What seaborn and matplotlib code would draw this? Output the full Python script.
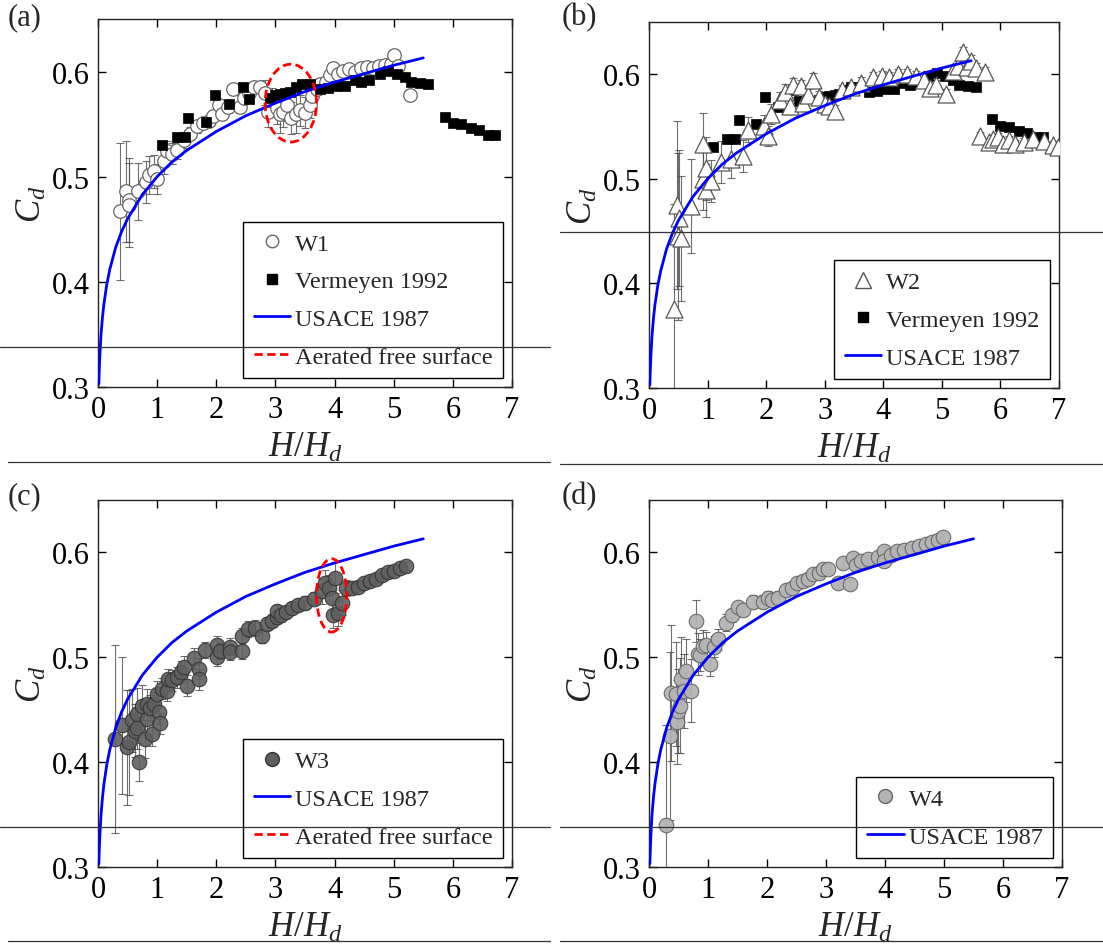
import numpy as np
import matplotlib
matplotlib.use("Agg")
import matplotlib.pyplot as plt
from matplotlib.lines import Line2D
from matplotlib.patches import Ellipse
import seaborn as sns

# ---------------- data ----------------
w1_x = [0.38, 0.47, 0.52, 0.53, 0.68, 0.82, 0.87, 0.95, 1.0, 1.11,
        1.16, 1.25, 1.33, 1.45, 1.56, 1.67, 1.78, 1.87, 1.95, 2.04,
        2.1, 2.2, 2.29, 2.4, 2.47, 2.55, 2.63, 2.74, 2.82, 2.88,
        2.95, 3.02, 3.08, 3.13, 3.2, 3.27, 3.35, 3.42, 3.5, 3.58,
        3.62, 3.7, 3.75, 3.85, 3.92, 3.98, 4.05, 4.15, 4.25, 4.35,
        4.45, 4.55, 4.65, 4.75, 4.85, 4.95, 5.0, 5.07, 5.27]
w1_y = [0.467, 0.486, 0.478, 0.473, 0.486, 0.495, 0.502, 0.505, 0.498, 0.515,
        0.524, 0.522, 0.525, 0.535, 0.541, 0.548, 0.551, 0.553, 0.558, 0.568,
        0.560, 0.566, 0.583, 0.566, 0.575, 0.580, 0.585, 0.585, 0.580, 0.562,
        0.572, 0.565, 0.560, 0.562, 0.568, 0.556, 0.560, 0.563, 0.561, 0.568,
        0.577, 0.583, 0.588, 0.590, 0.597, 0.603, 0.598, 0.601, 0.602, 0.600,
        0.603, 0.604, 0.603, 0.605, 0.606, 0.607, 0.616, 0.605, 0.578]
w1_err = [0.065, 0.048, 0.040, 0.040, 0.027, 0.020, 0.018, 0.016, 0.014, 0.012,
          0.010, 0.010, 0.008, 0.008, 0.006, 0.006, 0.005, 0.005, 0.005, 0.005,
          0.005, 0.005, 0.005, 0.005, 0.005, 0.005, 0.005, 0.005, 0.012, 0.015,
          0.012, 0.015, 0.018, 0.015, 0.015, 0.015, 0.018, 0.015, 0.015, 0.012,
          0.010, 0.005, 0.005, 0.005, 0.005, 0.005, 0.005, 0.005, 0.005, 0.005,
          0.005, 0.005, 0.005, 0.005, 0.005, 0.005, 0.005, 0.005, 0.005]

verm_x = [1.09, 1.33, 1.47, 1.53, 1.82, 1.98, 2.21, 2.46, 2.56, 2.91,
          3.0, 3.08, 3.17, 3.25, 3.35, 3.45, 3.58, 3.75, 3.89, 4.02,
          4.18, 4.35, 4.45, 4.59, 4.77, 4.91, 5.05, 5.19, 5.3, 5.44,
          5.58, 5.86, 6.0, 6.14, 6.31, 6.45, 6.6, 6.72]
verm_y = [0.530, 0.538, 0.538, 0.556, 0.552, 0.578, 0.569, 0.585, 0.574, 0.575,
          0.578, 0.579, 0.580, 0.581, 0.585, 0.588, 0.588, 0.583, 0.584, 0.586,
          0.586, 0.592, 0.590, 0.592, 0.598, 0.601, 0.598, 0.595, 0.590, 0.589,
          0.588, 0.557, 0.551, 0.550, 0.546, 0.544, 0.540, 0.540]

w2_x = [0.42, 0.47, 0.50, 0.52, 0.55, 0.72, 0.92, 0.93, 0.97, 0.98,
        1.06, 1.23, 1.40, 1.60, 1.69, 1.97, 2.03, 2.09, 2.23, 2.32,
        2.40, 2.46, 2.60, 2.63, 2.72, 2.80, 2.90, 3.00, 3.08, 3.17,
        3.30, 3.45, 3.62, 3.82, 3.97, 4.10, 4.25, 4.40, 4.55, 4.70,
        4.79, 4.90, 5.07, 5.19, 5.27, 5.36, 5.43, 5.50, 5.59, 5.73,
        5.65, 5.80, 5.88, 5.95, 6.05, 6.15, 6.25, 6.40, 6.55, 6.75,
        6.90, 6.98]
w2_y = [0.376, 0.475, 0.445, 0.463, 0.443, 0.474, 0.500, 0.533, 0.510, 0.489,
        0.498, 0.516, 0.519, 0.522, 0.547, 0.551, 0.541, 0.562, 0.575, 0.583,
        0.570, 0.590, 0.589, 0.573, 0.580, 0.595, 0.578, 0.572, 0.570, 0.565,
        0.585, 0.588, 0.592, 0.597, 0.598, 0.597, 0.600, 0.600, 0.598, 0.595,
        0.587, 0.590, 0.581, 0.603, 0.608, 0.621, 0.607, 0.613, 0.606, 0.602,
        0.541, 0.535, 0.538, 0.540, 0.533, 0.537, 0.533, 0.535, 0.538, 0.536,
        0.532, 0.530]
w2_err = [0.100, 0.080, 0.080, 0.065, 0.060, 0.045, 0.030, 0.030, 0.030, 0.025,
          0.020, 0.020, 0.018, 0.015, 0.012, 0.010, 0.010, 0.010, 0.008, 0.008,
          0.008, 0.006, 0.006, 0.006, 0.006, 0.006, 0.006, 0.006, 0.006, 0.006,
          0.005, 0.005, 0.005, 0.005, 0.005, 0.005, 0.005, 0.005, 0.005, 0.005,
          0.005, 0.005, 0.005, 0.005, 0.005, 0.005, 0.005, 0.005, 0.005, 0.005,
          0.004, 0.004, 0.004, 0.004, 0.004, 0.004, 0.004, 0.004, 0.004, 0.004,
          0.004, 0.004]

w3_x = [0.29, 0.41, 0.49, 0.52, 0.58, 0.63, 0.66, 0.66, 0.70, 0.74,
        0.80, 0.83, 0.83, 0.88, 0.91, 0.95, 1.00, 1.03, 1.05, 1.08,
        1.17, 1.19, 1.25, 1.33, 1.40, 1.45, 1.50, 1.63, 1.71, 1.71,
        1.81, 2.01, 2.01, 2.07, 2.23, 2.23, 2.43, 2.44, 2.54, 2.65,
        2.77, 2.85, 2.95, 3.02, 3.02, 3.10, 3.18, 3.28, 3.38, 3.50,
        3.65, 3.78, 3.84, 3.90, 3.95, 3.98, 4.01, 4.06, 4.12, 4.20,
        4.30, 4.40, 4.50, 4.60, 4.70, 4.80, 4.90, 5.00, 5.10, 5.20]
w3_y = [0.422, 0.435, 0.414, 0.419, 0.440, 0.430, 0.446, 0.433, 0.400, 0.454,
        0.422, 0.441, 0.455, 0.452, 0.427, 0.455, 0.465, 0.448, 0.437, 0.470,
        0.468, 0.479, 0.478, 0.481, 0.486, 0.491, 0.473, 0.499, 0.489, 0.479,
        0.507, 0.512, 0.500, 0.506, 0.510, 0.505, 0.506, 0.520, 0.527, 0.528,
        0.520, 0.532, 0.535, 0.538, 0.544, 0.540, 0.543, 0.547, 0.550, 0.552,
        0.556, 0.563, 0.571, 0.566, 0.557, 0.540, 0.576, 0.542, 0.552, 0.566,
        0.566, 0.567, 0.571, 0.573, 0.575, 0.578, 0.581, 0.582, 0.585, 0.587]
w3_err = [0.090, 0.065, 0.055, 0.050, 0.030, 0.025, 0.025, 0.020, 0.018, 0.020,
          0.018, 0.015, 0.015, 0.012, 0.012, 0.012, 0.012, 0.012, 0.010, 0.010,
          0.010, 0.010, 0.010, 0.010, 0.010, 0.010, 0.010, 0.010, 0.010, 0.010,
          0.008, 0.008, 0.008, 0.008, 0.008, 0.008, 0.008, 0.008, 0.008, 0.008,
          0.006, 0.006, 0.006, 0.006, 0.006, 0.006, 0.006, 0.006, 0.006, 0.006,
          0.006, 0.012, 0.012, 0.012, 0.012, 0.012, 0.015, 0.012, 0.012, 0.008,
          0.004, 0.004, 0.004, 0.004, 0.004, 0.004, 0.004, 0.004, 0.004, 0.004]

w4_x = [0.28, 0.35, 0.38, 0.45, 0.47, 0.49, 0.53, 0.55, 0.60, 0.63,
        0.72, 0.80, 0.83, 0.86, 0.92, 0.97, 1.03, 1.10, 1.17, 1.31,
        1.41, 1.51, 1.59, 1.77, 1.93, 2.02, 2.08, 2.19, 2.33, 2.42,
        2.50, 2.61, 2.70, 2.78, 2.88, 2.95, 3.03, 3.20, 3.28, 3.40,
        3.46, 3.50, 3.60, 3.72, 3.88, 3.99, 3.99, 4.10, 4.20, 4.32,
        4.45, 4.57, 4.70, 4.80, 4.90, 4.99]
w4_y = [0.340, 0.425, 0.466, 0.465, 0.438, 0.449, 0.454, 0.479, 0.468, 0.487,
        0.468, 0.535, 0.503, 0.502, 0.511, 0.512, 0.494, 0.510, 0.517, 0.533,
        0.540, 0.548, 0.545, 0.553, 0.553, 0.557, 0.555, 0.557, 0.564, 0.566,
        0.571, 0.573, 0.575, 0.579, 0.580, 0.584, 0.584, 0.571, 0.590, 0.570,
        0.595, 0.588, 0.592, 0.594, 0.596, 0.601, 0.592, 0.598, 0.601, 0.602,
        0.604, 0.606, 0.608, 0.610, 0.612, 0.615]
w4_err = [0.095, 0.080, 0.065, 0.050, 0.040, 0.040, 0.045, 0.040, 0.035, 0.030,
          0.030, 0.020, 0.020, 0.015, 0.015, 0.012, 0.012, 0.010, 0.010, 0.008,
          0.006, 0.006, 0.006, 0.006, 0.006, 0.006, 0.006, 0.006, 0.006, 0.006,
          0.005, 0.005, 0.005, 0.005, 0.005, 0.005, 0.005, 0.005, 0.005, 0.005,
          0.004, 0.004, 0.004, 0.004, 0.004, 0.004, 0.004, 0.004, 0.004, 0.004,
          0.004, 0.004, 0.004, 0.004, 0.004, 0.004]

usace_x = [0.015, 0.02, 0.03, 0.05, 0.075, 0.1, 0.15, 0.2, 0.3, 0.4, 0.5, 0.75,
           1.0, 1.25, 1.5, 2.0, 2.5, 3.0, 3.5, 4.0, 4.5, 5.0, 5.5]
usace_y = [0.303, 0.313, 0.328, 0.349, 0.366, 0.379, 0.398, 0.412, 0.433, 0.448,
           0.460, 0.483, 0.500, 0.514, 0.525, 0.543, 0.558, 0.570, 0.581, 0.590,
           0.598, 0.606, 0.613]

# aerated-region ellipses: (center x, center y, width, height)
ell_a = [3.26, 0.570, 0.87, 0.074]
ell_c = [3.95, 0.559, 0.51, 0.070]

x_ticks = [0, 1, 2, 3, 4, 5, 6, 7]
y_ticks = [0.3, 0.4, 0.5, 0.6]
panel_labels = ["(a)", "(b)", "(c)", "(d)"]

# ---------------- style ----------------
sns.set_style("ticks")
plt.rcParams["font.family"] = ["Liberation Serif", "DejaVu Serif"]
plt.rcParams["mathtext.fontset"] = "custom"
plt.rcParams["mathtext.rm"] = "Liberation Serif"
plt.rcParams["mathtext.it"] = "Liberation Serif:italic"

fig = plt.figure(figsize=(11.03, 9.45), dpi=100)
W, H = 1103.0, 945.0

def ax_at(l, r, t, b):
    return fig.add_axes([l / W, 1 - b / H, (r - l) / W, (b - t) / H])

axs = [ax_at(98, 512, 20, 388), ax_at(649, 1059, 23, 389),
       ax_at(98, 512, 501, 868), ax_at(649, 1062, 501, 868)]

ERR_KW = dict(fmt="none", ecolor="#4a4a4a", elinewidth=0.8, capsize=3,
              capthick=0.8, alpha=0.8, zorder=2)


def style_axes(ax):
    ax.set_xlim(0, 7)
    ax.set_ylim(0.3, 0.65)
    ax.set_xticks(x_ticks)
    ax.set_yticks(y_ticks)
    ax.set_yticklabels([f"{v:.1f}" for v in y_ticks])
    ax.tick_params(direction="in", top=True, right=True, length=6, width=1,
                   labelsize=22, pad=6, colors="black")
    for sp in ax.spines.values():
        sp.set_visible(True)
        sp.set_linewidth(1.0)
        sp.set_color("#222222")
    ax.set_xlabel("$H/H_d$", fontsize=25, labelpad=5)
    ax.set_ylabel("$C_d$", fontsize=25, labelpad=2)


def usace(ax):
    sns.lineplot(x=usace_x, y=usace_y, ax=ax, color="#0000ff", lw=2.0,
                 zorder=4, legend=False)


def verm(ax):
    sns.scatterplot(x=verm_x, y=verm_y, ax=ax, marker="s", s=55,
                    color="black", edgecolor="black", linewidth=0.5,
                    zorder=3, legend=False)


def ellipse(ax, e):
    ax.add_patch(Ellipse((e[0], e[1]), e[2], e[3], fill=False,
                         edgecolor="red", lw=2.0, linestyle=(0, (3, 1.6)),
                         zorder=5))


usace_h = Line2D([], [], color="#0000ff", lw=2.0)
verm_h = Line2D([], [], marker="s", color="black", ls="none", markersize=7)
aer_h = Line2D([], [], color="red", lw=2.0, ls=(0, (3, 1.6)))

LEG_KW = dict(loc="lower right", fontsize=17.5, frameon=True, fancybox=False,
              edgecolor="black", framealpha=1, borderaxespad=0.35,
              labelspacing=0.64, handlelength=1.5, handletextpad=0.2,
              borderpad=0.45)

# (a)
ax = axs[0]
ax.errorbar(w1_x, w1_y, yerr=w1_err, **ERR_KW)
sns.scatterplot(x=w1_x, y=w1_y, ax=ax, marker="o", s=95, facecolor="white",
                edgecolor="#666666", linewidth=0.9, zorder=3, legend=False)
verm(ax)
usace(ax)
ellipse(ax, ell_a)
style_axes(ax)
h1 = Line2D([], [], marker="o", ls="none", markersize=9, markerfacecolor="white",
            markeredgecolor="#666666")
leg = ax.legend([h1, verm_h, usace_h, aer_h],
                ["W1", "Vermeyen 1992", "USACE 1987", "Aerated free surface"], **LEG_KW)
leg.get_frame().set_linewidth(1.0)

# (b)
ax = axs[1]
ax.errorbar(w2_x, w2_y, yerr=w2_err, **ERR_KW)
verm(ax)
sns.scatterplot(x=w2_x, y=w2_y, ax=ax, marker="^", s=150, facecolor="white",
                edgecolor="#555555", linewidth=0.9, zorder=3, legend=False)
usace(ax)
style_axes(ax)
h2 = Line2D([], [], marker="^", ls="none", markersize=11, markerfacecolor="white",
            markeredgecolor="#555555")
leg = ax.legend([h2, verm_h, usace_h], ["W2", "Vermeyen 1992", "USACE 1987"], **LEG_KW)
leg.get_frame().set_linewidth(1.0)

# (c)
ax = axs[2]
ax.errorbar(w3_x, w3_y, yerr=w3_err, **ERR_KW)
sns.scatterplot(x=w3_x, y=w3_y, ax=ax, marker="o", s=110, color="#5f5f5f",
                edgecolor="#333333", linewidth=0.8, alpha=0.9, zorder=3, legend=False)
usace(ax)
ellipse(ax, ell_c)
style_axes(ax)
h3 = Line2D([], [], marker="o", ls="none", markersize=10, markerfacecolor="#5f5f5f",
            markeredgecolor="#333333")
leg = ax.legend([h3, usace_h, aer_h], ["W3", "USACE 1987", "Aerated free surface"], **LEG_KW)
leg.get_frame().set_linewidth(1.0)

# (d)
ax = axs[3]
ax.errorbar(w4_x, w4_y, yerr=w4_err, **ERR_KW)
sns.scatterplot(x=w4_x, y=w4_y, ax=ax, marker="o", s=110, color="#b4b4b4",
                edgecolor="#666666", linewidth=0.8, alpha=0.95, zorder=3, legend=False)
usace(ax)
style_axes(ax)
h4 = Line2D([], [], marker="o", ls="none", markersize=10, markerfacecolor="#b4b4b4",
            markeredgecolor="#666666")
leg = ax.legend([h4, usace_h], ["W4", "USACE 1987"], **LEG_KW)
leg.get_frame().set_linewidth(1.0)

# panel letters
for lab, (px, py) in zip(panel_labels, [(8, 18), (562, 18), (8, 497), (562, 497)]):
    fig.text(px / W, 1 - py / H, lab, fontsize=22, ha="left", va="center")

# thin horizontal rules present in the original figure
rules = [(0, 550, 348), (560, 1103, 233), (0, 550, 828), (560, 1103, 828),
         (8, 550, 463), (560, 1103, 465), (8, 550, 942), (560, 1103, 942)]
for x0, x1, yy in rules:
    fig.add_artist(Line2D([x0 / W, x1 / W], [1 - yy / H, 1 - yy / H],
                          transform=fig.transFigure, color="#333333", lw=0.9))

fig.savefig("out.png", dpi=100)
